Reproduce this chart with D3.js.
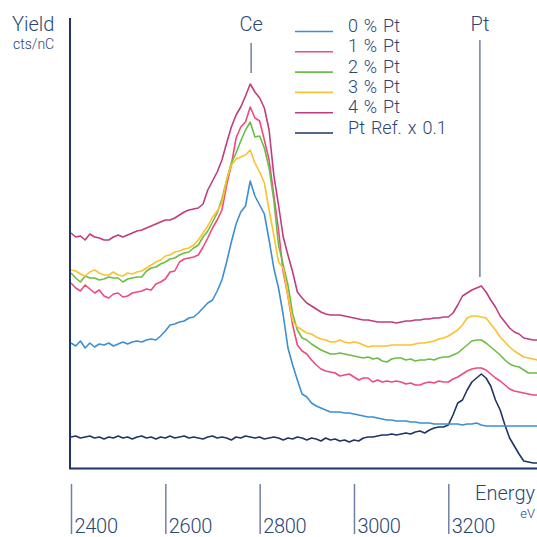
<!DOCTYPE html>
<html lang="en">
<head>
<meta charset="utf-8">
<title>Yield vs Energy</title>
<script src="https://d3js.org/d3.v7.min.js"></script>
<style>
  body { margin: 0; background: #fff; }
  svg text { font-family: Roboto, "Liberation Sans", Arial, sans-serif; font-weight: 300; fill: #2b4675; }
</style>
</head>
<body>
<div id="chart"></div>
<script>
// energy grid, eV (10 eV steps)
var energy = d3.range(2400, 3391, 10);

// yields, arbitrary units (cts/nC)
var pt0 = [125,122,127,120,125,121,124,123,125,122,124,126,124,126,127,126,128,129,128,132,
  137,143,144,146,147,150,151,155,160,165,168,177,188,206,226,244,256,262,287,272,
  263,254,228,200,180,153,120,103,88,74,71,65,62,60,58,56,56,56,55,55,
  54,53,52,51,51,50,49,48,48,47,47,47,46,46,45,45,45,44,44,44,
  44,44,44,43,44,44,45,43,42,42,42,42,42,42,42,42,42,42,42,42];
var pt1 = [185,180,177,183,179,175,178,172,170,174,175,171,172,175,176,177,179,178,184,186,
  189,196,197,206,209,210,211,213,221,230,240,248,258,283,303,330,341,346,361,350,
  347,328,308,273,238,196,172,143,123,117,114,108,103,99,97,96,95,92,93,94,
  91,88,90,90,86,88,86,87,86,87,86,84,85,83,83,85,86,85,87,86,
  86,89,91,94,97,99,100,100,98,94,90,87,83,79,77,76,75,74,73,73];
var pt2 = [195,190,186,192,190,190,188,189,191,190,190,186,189,190,191,191,197,200,201,204,
  206,209,210,213,215,216,220,223,231,237,246,255,269,288,305,315,327,338,346,331,
  332,320,300,268,223,203,183,154,138,130,128,124,121,118,116,114,114,115,114,113,
  112,111,110,111,109,110,107,106,109,110,110,108,109,107,108,108,109,108,110,111,
  111,113,115,119,123,127,128,128,125,121,117,113,108,104,102,101,98,95,95,95];
var pt3 = [198,197,194,192,196,198,195,193,193,196,193,192,195,194,196,197,200,203,206,208,
  212,213,216,217,219,220,223,228,235,242,251,257,265,288,303,309,311,313,318,305,
  296,285,258,233,206,200,172,147,141,138,135,134,131,129,128,126,126,128,126,125,
  126,125,123,121,122,122,122,122,123,123,123,123,123,124,125,125,126,127,129,130,
  132,135,138,143,150,152,152,151,150,144,138,131,126,121,117,114,111,110,109,108];
var pt4 = [235,231,232,228,234,231,230,228,228,231,233,231,233,235,237,238,240,242,244,246,
  248,248,250,253,256,258,259,260,264,278,287,296,308,325,341,353,361,372,384,376,
  370,360,338,293,263,231,213,196,176,170,165,162,159,156,154,153,153,153,152,151,
  150,149,148,148,147,146,146,146,146,145,146,147,147,148,148,149,149,150,150,151,
  151,155,163,172,175,178,180,182,176,168,161,152,146,140,136,134,130,129,128,128];
var ptRef = [31,32,30,31,32,30,31,29,31,30,32,30,31,29,31,32,30,31,29,31,
  30,32,30,31,32,30,31,30,29,31,32,30,31,30,28,31,30,32,31,30,
  31,29,30,31,30,28,30,29,31,30,28,30,29,27,30,28,29,27,28,26,
  28,27,30,31,31,32,33,33,34,33,34,35,34,36,37,35,38,40,41,41,
  43,53,65,68,78,86,90,94,90,82,68,58,43,30,22,14,7,6,5,5];

var seriesNames = ["0 % Pt", "1 % Pt", "2 % Pt", "3 % Pt", "4 % Pt", "Pt Ref. x 0.1"];
var seriesValues = [pt0, pt1, pt2, pt3, pt4, ptRef];
var seriesColors = ["#3a8fd5", "#ee4a7d", "#6bbd45", "#fcc12f", "#c03c7f", "#1f3563"];
var tickValues = [2400, 2600, 2800, 3000, 3200];

var width = 537, height = 537;
var svg = d3.select("#chart").append("svg")
  .attr("width", width).attr("height", height);

var x = d3.scaleLinear().domain([2400, 3200]).range([71, 448.3]);
var y = d3.scaleLinear().domain([0, 450]).range([468, 18]);

var line = d3.line()
  .x(function(d, i) { return x(energy[i]); })
  .y(function(d) { return y(d); });

// ref first so the sample curves sit on top
var order = [5, 0, 1, 2, 3, 4];
order.forEach(function(k) {
  svg.append("path")
    .datum(seriesValues[k])
    .attr("fill", "none")
    .attr("stroke", seriesColors[k])
    .attr("stroke-width", 1.6)
    .attr("stroke-linejoin", "round")
    .attr("d", line);
});

// axes lines
svg.append("line").attr("x1", 70).attr("x2", 70).attr("y1", 18).attr("y2", 469)
  .attr("stroke", "#1f3563").attr("stroke-width", 2);
svg.append("line").attr("x1", 69).attr("x2", 537).attr("y1", 468.5).attr("y2", 468.5)
  .attr("stroke", "#1f3563").attr("stroke-width", 2);

// x ticks below, detached from the axis
var xAxis = d3.axisBottom(x).tickValues(tickValues).tickSize(50).tickFormat(d3.format("d"));
var gx = svg.append("g").attr("transform", "translate(0,484)").call(xAxis);
gx.select(".domain").remove();
gx.selectAll(".tick line").attr("stroke", "#6f7fa5").attr("stroke-width", 1.5);
gx.selectAll(".tick text")
  .attr("text-anchor", "start")
  .attr("x", 3).attr("y", 49).attr("dy", 0)
  .style("font-size", "20px")
  .style("font-family", "Roboto, Liberation Sans, Arial, sans-serif")
  .style("font-weight", 300)
  .style("fill", "#2b4675")
  .style("letter-spacing", "-0.3px");

// axis titles
svg.append("text").attr("x", 12).attr("y", 31).style("font-size", "20px").text("Yield");
svg.append("text").attr("x", 13).attr("y", 49).style("font-size", "14px").text("cts/nC");
svg.append("text").attr("x", 535).attr("y", 500).attr("text-anchor", "end")
  .style("font-size", "20px").text("Energy");
svg.append("text").attr("x", 535).attr("y", 518).attr("text-anchor", "end")
  .style("font-size", "13px").text("eV");

// peak markers
var markers = [{label: "Ce", e: 2782, top: 43, bottom: 73},
               {label: "Pt", e: 3267, top: 40, bottom: 277}];
markers.forEach(function(m) {
  svg.append("line").attr("x1", x(m.e)).attr("x2", x(m.e))
    .attr("y1", m.top).attr("y2", m.bottom)
    .attr("stroke", "#6f7fa5").attr("stroke-width", 1.5);
  svg.append("text").attr("x", x(m.e)).attr("y", 31).attr("text-anchor", "middle")
    .style("font-size", "20px").text(m.label);
});

// legend
var legend = svg.append("g").attr("transform", "translate(295,32)");
seriesNames.forEach(function(name, k) {
  var g = legend.append("g").attr("transform", "translate(0," + (k * 20.3) + ")");
  g.append("line").attr("x1", 0).attr("x2", 38).attr("y1", -0.5).attr("y2", -0.5)
    .attr("stroke", seriesColors[k]).attr("stroke-width", 1.6);
  g.append("text").attr("x", 53).attr("y", 0).style("font-size", "18px")
    .style("word-spacing", "1.5px").text(name);
});
</script>
</body>
</html>
